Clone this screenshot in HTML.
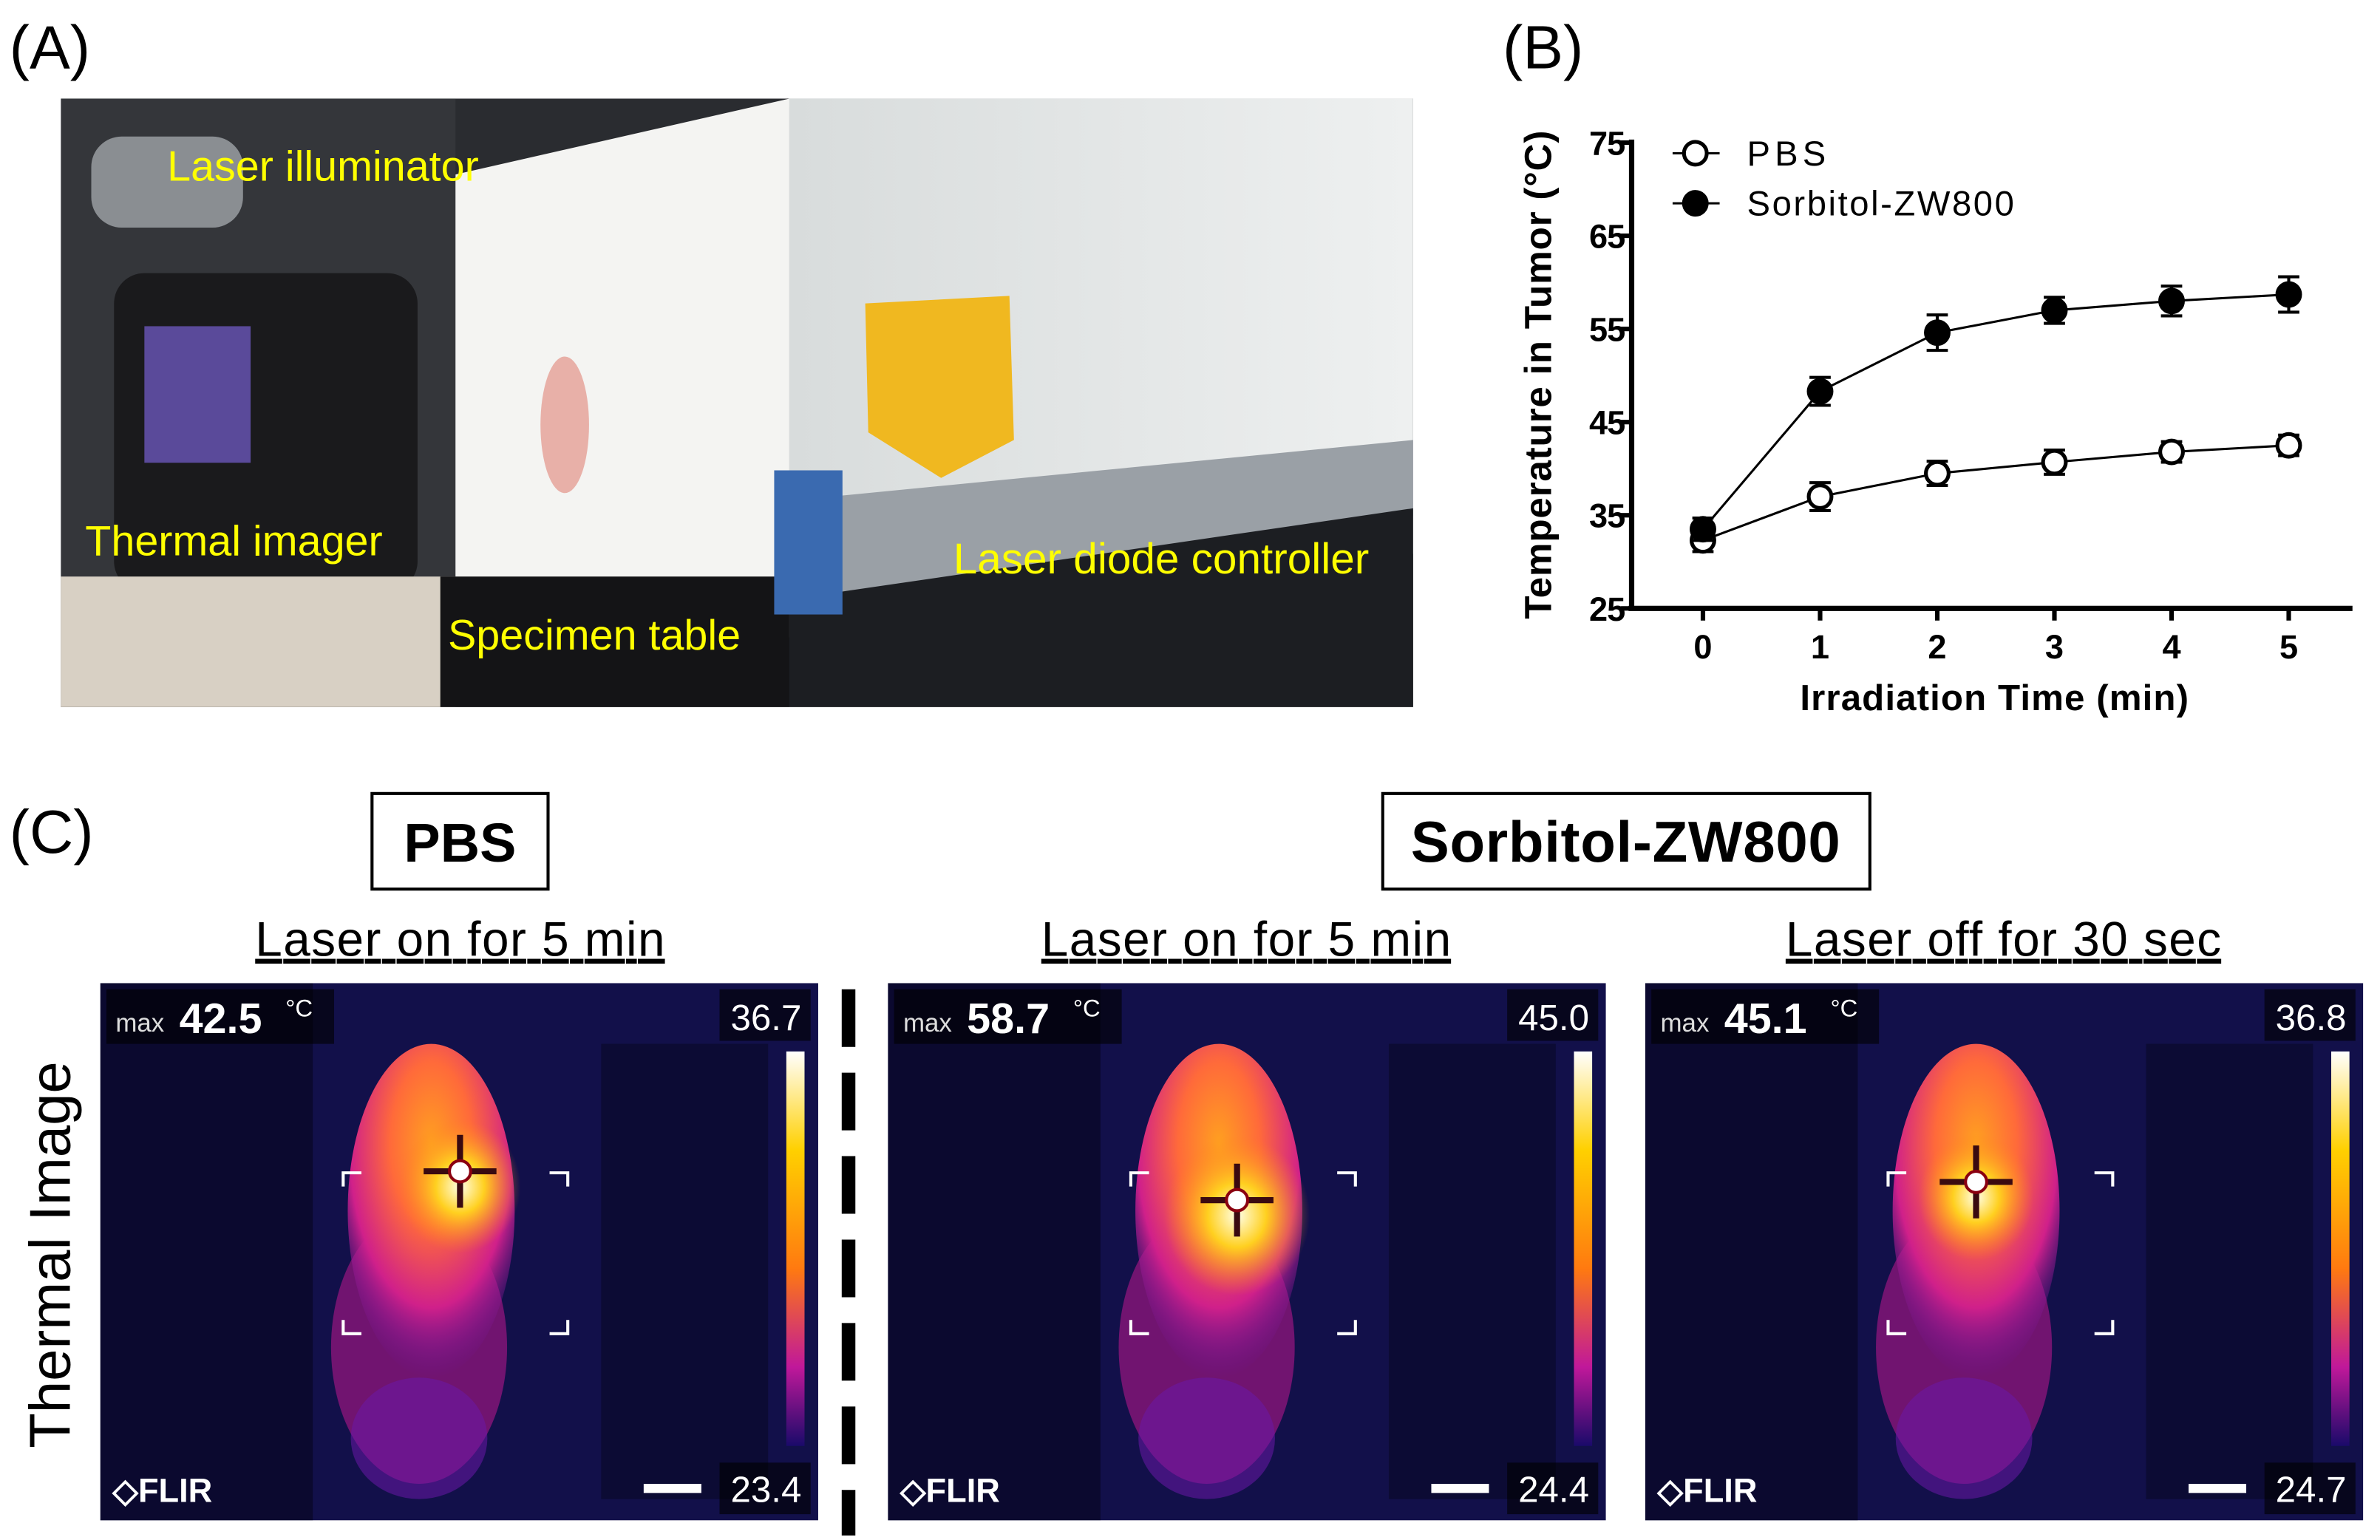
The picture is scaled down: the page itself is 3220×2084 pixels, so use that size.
<!DOCTYPE html>
<html><head><meta charset="utf-8"><style>
html,body{margin:0;padding:0;background:#fff;}
svg{display:block;}
text{font-family:"Liberation Sans",Arial,sans-serif;}
</style></head><body>
<svg id="root" width="3220" height="2084" viewBox="0 0 1568 1015" xmlns="http://www.w3.org/2000/svg">
<defs>
 <radialGradient id="bodyG" cx="0.5" cy="0.3" r="0.7">
  <stop offset="0" stop-color="#ffa020"/><stop offset="0.35" stop-color="#ff6a3a"/><stop offset="0.7" stop-color="#d0208a"/><stop offset="1" stop-color="#6a16a0" stop-opacity="0"/>
 </radialGradient>
 <radialGradient id="hotG" cx="0.5" cy="0.5" r="0.5">
  <stop offset="0" stop-color="#ffffe8"/><stop offset="0.4" stop-color="#ffd020"/><stop offset="1" stop-color="#ff8020" stop-opacity="0"/>
 </radialGradient>
 <linearGradient id="scaleG" x1="0" y1="0" x2="0" y2="1">
  <stop offset="0" stop-color="#ffffff"/><stop offset="0.25" stop-color="#ffd000"/><stop offset="0.55" stop-color="#ff7a10"/><stop offset="0.8" stop-color="#c0189a"/><stop offset="1" stop-color="#1a0a6a"/>
 </linearGradient>
 <linearGradient id="wallG" x1="0" y1="0" x2="1" y2="0">
  <stop offset="0" stop-color="#d8dcdc"/><stop offset="1" stop-color="#eef0f0"/>
 </linearGradient>
</defs>

<text x="6" y="45" font-size="40">(A)</text>
<text x="990" y="45" font-size="40">(B)</text>
<text x="6" y="562" font-size="40">(C)</text>

<g>
 <rect x="40" y="65" width="891" height="401" fill="#2a2c30"/>
 <rect x="520" y="65" width="411" height="300" fill="url(#wallG)"/>
 <polygon points="520,330 931,290 931,340 520,400" fill="#9aa0a6"/>
 <polygon points="520,395 931,335 931,466 520,466" fill="#1c1e22"/>
 <polygon points="300,115 520,65 520,420 290,400" fill="#f4f4f2"/>
 <rect x="40" y="65" width="260" height="401" fill="#34363a"/>
 <rect x="60" y="90" width="100" height="60" rx="20" fill="#8a8e92"/>
 <rect x="75" y="180" width="200" height="210" rx="20" fill="#1a1a1c"/>
 <rect x="95" y="215" width="70" height="90" fill="#5a4a9a"/>
 <rect x="40" y="380" width="260" height="86" fill="#d8d0c4"/>
 <rect x="290" y="380" width="230" height="86" fill="#141416"/>
 <ellipse cx="372" cy="280" rx="16" ry="45" fill="#e8b0a8"/>
 <polygon points="570,200 665,195 668,290 620,315 572,285" fill="#f0b820"/>
 <rect x="510" y="310" width="45" height="95" fill="#3a6ab0"/>
 <text x="110" y="119" font-size="28" fill="#ffff00">Laser illuminator</text>
 <text x="56" y="366" font-size="28" fill="#ffff00">Thermal imager</text>
 <text x="295" y="428" font-size="28" fill="#ffff00">Specimen table</text>
 <text x="628" y="378" font-size="28.5" fill="#ffff00">Laser diode controller</text>
</g>

<g id="chart"></g>

<rect x="245" y="523" width="116" height="63" fill="none" stroke="#000" stroke-width="2"/>
<text x="303" y="568" font-size="36" font-weight="bold" text-anchor="middle">PBS</text>
<rect x="911" y="523" width="321" height="63" fill="none" stroke="#000" stroke-width="2"/>
<text x="1071" y="568" font-size="38" font-weight="bold" text-anchor="middle" textLength="283">Sorbitol-ZW800</text>
<text x="303" y="630" font-size="32" text-anchor="middle" text-decoration="underline" textLength="270">Laser on for 5 min</text>
<text x="821" y="630" font-size="32" text-anchor="middle" text-decoration="underline" textLength="270">Laser on for 5 min</text>
<text x="1320" y="630" font-size="32" text-anchor="middle" text-decoration="underline" textLength="287">Laser off for 30 sec</text>
<text transform="translate(46,827) rotate(-90)" font-size="38" text-anchor="middle" textLength="255">Thermal Image</text>
<line x1="559" y1="652" x2="559" y2="1012" stroke="#000" stroke-width="9" stroke-dasharray="38,17"/>
<g id="thermals"></g>
</svg>
<script>
const NS="http://www.w3.org/2000/svg";
const times=[0,1,2,3,4,5];
const pbsMean=[32.3,37.0,39.5,40.7,41.8,42.5];
const pbsErr=[1.2,1.5,1.3,1.3,1.1,1.1];
const swMean=[33.5,48.3,54.6,57.0,58.0,58.7];
const swErr=[1.2,1.5,1.9,1.4,1.6,1.9];
const yTicks=[25,35,45,55,65,75];
const xTicks=[0,1,2,3,4,5];
function mk(tag,attrs,parent){const e=document.createElementNS(NS,tag);for(const k in attrs)e.setAttribute(k,attrs[k]);parent.appendChild(e);return e;}
const X=t=>1122+(1508-1122)*t/5;
const Y=v=>401-(401-94)*(v-25)/50;
const chart=document.getElementById('chart');
let ax=mk('line',{x1:1075,y1:92,x2:1075,y2:402,stroke:'#000','stroke-width':3.5},chart);


let bx=mk('line',{x1:1073,y1:401,x2:1550,y2:401,stroke:'#000','stroke-width':3.5},chart);


yTicks.forEach(v=>{
 let t=mk('line',{x1:1068,y1:Y(v),x2:1075,y2:Y(v),stroke:'#000','stroke-width':3},chart);
 
 
 let l=mk('text',{x:1071,y:Y(v)+8,'font-size':22,'font-weight':'bold','text-anchor':'end',textLength:24},chart);l.textContent=v;
 
 
});
xTicks.forEach(v=>{
 let t=mk('line',{x1:X(v),y1:401,x2:X(v),y2:409,stroke:'#000','stroke-width':3},chart);
 
 
 let l=mk('text',{x:X(v),y:434,'font-size':22,'font-weight':'bold','text-anchor':'middle'},chart);l.textContent=v;
 
 
});
let xt=mk('text',{x:1314,y:468,'font-size':24,'font-weight':'bold','text-anchor':'middle',textLength:256},chart);xt.textContent='Irradiation Time (min)';


let yt=mk('text',{transform:'translate(1022,247) rotate(-90)','font-size':25,'font-weight':'bold','text-anchor':'middle',textLength:322},chart);yt.textContent='Temperature in Tumor (\u00B0C)';


function series(mean,err,filled,name){
 const g=mk('g',{},chart);
 
 
 let pl=mk('polyline',{points:times.map((t,i)=>X(t)+','+Y(mean[i])).join(' '),fill:'none',stroke:'#000','stroke-width':1.5},g);
 
 
 times.forEach((t,i)=>{
  const x=X(t),y1=Y(mean[i]+err[i]),y2=Y(mean[i]-err[i]);
  let eb=mk('path',{d:`M${x},${y1}V${y2}M${x-7},${y1}H${x+7}M${x-7},${y2}H${x+7}`,stroke:'#000','stroke-width':2,fill:'none'},g);
  
  
  let c=mk('circle',{cx:x,cy:Y(mean[i]),r:7.5,fill:filled?'#000':'#fff',stroke:'#000','stroke-width':2.5},g);
  
  
 });
}
series(pbsMean,pbsErr,false,'pbs-series');
series(swMean,swErr,true,'sorbitol-series');
[[101,'PBS',false,52],[134,'Sorbitol-ZW800',true,176]].forEach(([y,lab,f,w])=>{
 let l=mk('line',{x1:1102,y1:y,x2:1133,y2:y,stroke:'#000','stroke-width':1.5},chart);
 
 
 let c=mk('circle',{cx:1117,cy:y,r:7.5,fill:f?'#000':'#fff',stroke:'#000','stroke-width':2.5},chart);
 
 
 let t=mk('text',{x:1151,y:y+8,'font-size':23,textLength:w},chart);t.textContent=lab;
 
 
});
const th=document.getElementById('thermals');
function panel(x0,hx,hy,maxT,top,bot,hot){
 const g=mk('g',{transform:`translate(${x0},648)`},th);
 
 
 mk('rect',{x:0,y:0,width:473,height:354,fill:'#12104a'},g);
 mk('rect',{x:0,y:0,width:140,height:354,fill:'#06051e',opacity:0.6},g);
 mk('rect',{x:330,y:40,width:110,height:300,fill:'#06051e',opacity:0.5},g);
 mk('ellipse',{cx:210,cy:240,rx:58,ry:90,fill:'#c01890',opacity:0.55},g);
 mk('ellipse',{cx:210,cy:300,rx:45,ry:40,fill:'#6a18a8',opacity:0.55},g);
 mk('ellipse',{cx:218,cy:150,rx:55,ry:110,fill:'url(#bodyG)'},g);
 mk('ellipse',{cx:hx,cy:hy+10,rx:hot,ry:hot*1.1,fill:'url(#hotG)'},g);
 mk('path',{d:`M${hx},${hy-24}V${hy+24}M${hx-24},${hy}H${hx+24}`,stroke:'#3a0a10','stroke-width':4},g);
 mk('circle',{cx:hx,cy:hy,r:7,fill:'#fff',stroke:'#8a0010','stroke-width':2},g);
 mk('path',{d:'M160,134V125H172M296,125H308V134M160,222V231H172M296,231H308V222',stroke:'#fff','stroke-width':2,fill:'none'},g);
 mk('rect',{x:4,y:4,width:150,height:36,fill:'#000',opacity:0.6},g);
 let t=mk('text',{x:10,y:32,'font-size':17,fill:'#ddd'},g);t.textContent='max';
 
 
 let v=mk('text',{x:52,y:33,'font-size':28,'font-weight':'bold',fill:'#fff'},g);v.textContent=maxT;
 
 
 let u=mk('text',{x:122,y:22,'font-size':16,fill:'#fff'},g);u.textContent='\u00B0C';
 
 
 mk('rect',{x:408,y:4,width:60,height:34,fill:'#000',opacity:0.6},g);
 let s1=mk('text',{x:462,y:31,'font-size':24,fill:'#fff','text-anchor':'end'},g);s1.textContent=top;
 
 
 mk('rect',{x:452,y:45,width:12,height:260,fill:'url(#scaleG)'},g);
 mk('rect',{x:408,y:316,width:60,height:34,fill:'#000',opacity:0.6},g);
 let s2=mk('text',{x:462,y:342,'font-size':24,fill:'#fff','text-anchor':'end'},g);s2.textContent=bot;
 
 
 mk('rect',{x:358,y:330,width:38,height:6,fill:'#fff'},g);
 let f=mk('text',{x:8,y:342,'font-size':22,'font-weight':'bold',fill:'#fff'},g);f.textContent='\u25C7FLIR';
 
 
}
panel(66,237,124,'42.5','36.7','23.4',40);
panel(585,230,143,'58.7','45.0','24.4',48);
panel(1084,218,131,'45.1','36.8','24.7',38);
</script>
</body></html>
